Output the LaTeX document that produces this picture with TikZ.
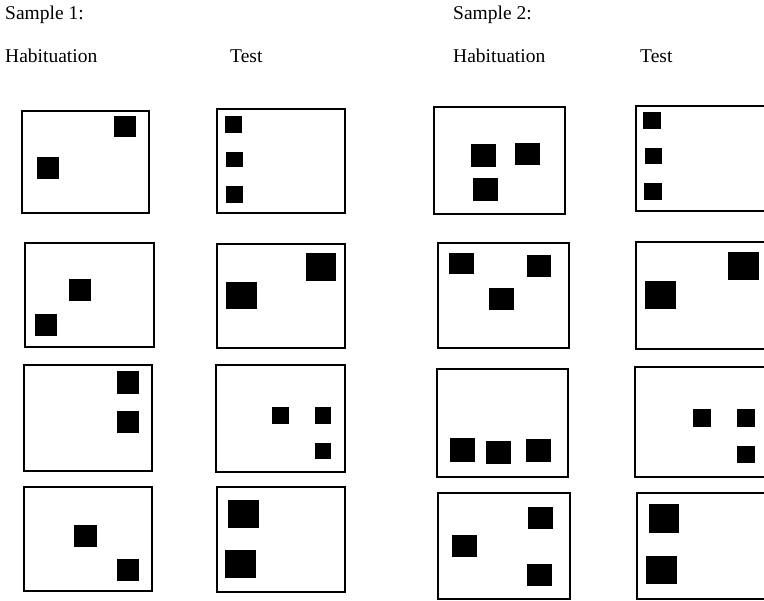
\documentclass[tikz,border=0pt]{standalone}
\usepackage{fontspec}
\setmainfont{Liberation Serif}
\begin{document}
\begin{tikzpicture}[x=1pt,y=-1pt,
  frame/.style={draw=black,line width=1.9pt},
  blob/.style={fill=black},
  lbl/.style={anchor=base west,inner sep=0pt,font=\fontsize{19.5}{22}\selectfont}]
\useasboundingbox (0,0) rectangle (764,601);
% labels
\node[lbl] (s1) at (5,20) {Sample 1:};
\node[lbl] (h1) at (5,63) {Habituation};
\node[lbl] (t1) at (230,63) {Test};
\node[lbl] (s2) at (453,20) {Sample 2:};
\node[lbl] (h2) at (453,63) {Habituation};
\node[lbl] (t2) at (640,63) {Test};
% Sample 1, habituation
\draw[frame] (22,111) rectangle (149,213);
\fill[blob] (114,116) rectangle (136,137);
\fill[blob] (37,157) rectangle (59,179);
\draw[frame] (25,243) rectangle (154,347);
\fill[blob] (69,279) rectangle (91,301);
\fill[blob] (35,314) rectangle (57,336);
\draw[frame] (24,365) rectangle (152,471);
\fill[blob] (117,371) rectangle (139,394);
\fill[blob] (117,411) rectangle (139,433);
\draw[frame] (24,487) rectangle (152,591);
\fill[blob] (74,525) rectangle (97,547);
\fill[blob] (117,559) rectangle (139,581);
% Sample 1, test
\draw[frame] (217,109) rectangle (345,213);
\fill[blob] (225,116) rectangle (242,133);
\fill[blob] (226,152) rectangle (243,167);
\fill[blob] (226,186) rectangle (243,203);
\draw[frame] (217,244) rectangle (345,348);
\fill[blob] (306,253) rectangle (336,281);
\fill[blob] (226,282) rectangle (257,309);
\draw[frame] (216,365) rectangle (345,472);
\fill[blob] (272,407) rectangle (289,424);
\fill[blob] (315,407) rectangle (331,424);
\fill[blob] (315,443) rectangle (331,459);
\draw[frame] (217,487) rectangle (345,592);
\fill[blob] (228,500) rectangle (259,528);
\fill[blob] (225,550) rectangle (256,578);
% Sample 2, habituation
\draw[frame] (434,107) rectangle (565,214);
\fill[blob] (471,144) rectangle (496,167);
\fill[blob] (515,143) rectangle (540,165);
\fill[blob] (473,178) rectangle (498,201);
\draw[frame] (438,243) rectangle (569,348);
\fill[blob] (449,253) rectangle (474,274);
\fill[blob] (527,255) rectangle (551,277);
\fill[blob] (489,288) rectangle (514,310);
\draw[frame] (437,369) rectangle (568,477);
\fill[blob] (450,438) rectangle (475,462);
\fill[blob] (486,441) rectangle (511,464);
\fill[blob] (526,439) rectangle (551,462);
\draw[frame] (438,493) rectangle (570,599);
\fill[blob] (452,535) rectangle (477,557);
\fill[blob] (528,507) rectangle (553,529);
\fill[blob] (527,564) rectangle (552,586);
% Sample 2, test (cut off at the right edge)
\draw[frame] (772,106) -- (636,106) -- (636,211) -- (772,211);
\fill[blob] (643,112) rectangle (661,129);
\fill[blob] (645,148) rectangle (662,164);
\fill[blob] (644,183) rectangle (662,200);
\draw[frame] (772,242) -- (636,242) -- (636,349) -- (772,349);
\fill[blob] (728,252) rectangle (759,280);
\fill[blob] (645,281) rectangle (676,309);
\draw[frame] (772,367) -- (635,367) -- (635,477) -- (772,477);
\fill[blob] (693,409) rectangle (711,427);
\fill[blob] (737,409) rectangle (755,427);
\fill[blob] (737,446) rectangle (755,463);
\draw[frame] (772,493) -- (637,493) -- (637,599) -- (772,599);
\fill[blob] (649,504) rectangle (679,533);
\fill[blob] (646,556) rectangle (677,584);
\end{tikzpicture}
\end{document}
